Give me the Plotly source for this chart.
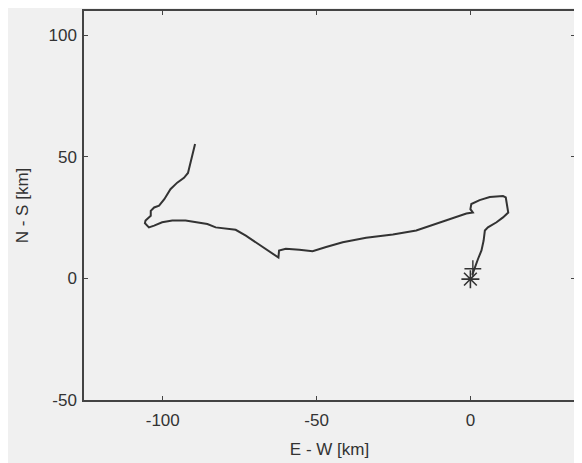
import plotly.graph_objects as go

# Trajectory (km)
ew = [-89.5, -90.9, -91.8, -93.1, -95.3, -97.5, -99.5, -101.2, -102.8, -103.9,
      -103.9, -105.6, -105.8, -104.5, -102.8, -100.2, -96.9, -92.6, -88.2, -85.5,
      -82.8, -76.3, -73.0, -69.8, -66.5, -63.2, -62.4, -62.2, -60.0, -55.6,
      -51.3, -46.9, -41.5, -33.9, -25.2, -17.6, -12.2, -6.7, -1.3, 0.8,
      0.0, 0.3, 3.0, 6.3, 10.6, 11.5, 11.9, 12.3, 10.6, 8.5,
      5.7, 4.7, 4.3, 3.6, 2.5, 1.4, 0.6]
ns = [55.3, 48.2, 43.4, 41.4, 39.4, 36.7, 32.6, 29.9, 29.2, 27.8,
      25.8, 23.8, 22.7, 21.0, 21.7, 23.1, 23.8, 23.8, 23.1, 22.4,
      21.0, 20.0, 17.6, 14.9, 12.2, 9.5, 8.6, 11.5, 12.2, 11.8,
      11.2, 12.9, 14.9, 16.7, 18.1, 19.7, 22.1, 24.4, 26.7, 27.1,
      28.5, 30.6, 32.2, 33.5, 33.9, 33.3, 29.2, 27.1, 25.1, 23.1,
      21.0, 19.7, 15.6, 11.5, 8.1, 4.7, 1.5]

start_x = [0.0]
start_y = [-0.3]
plus_x = [0.8]
plus_y = [4.0]

x_ticks = [-100, -50, 0]
x_tick_text = ["-100", "-50", "0"]
y_ticks = [-50, 0, 50, 100]
y_tick_text = ["-50", "0", "50", "100"]

ink = "#333333"
fig = go.Figure()
fig.add_trace(go.Scatter(x=ew, y=ns, mode="lines",
                         line=dict(color=ink, width=2), showlegend=False))
fig.add_trace(go.Scatter(x=start_x, y=start_y, mode="markers",
                         marker=dict(symbol="asterisk-open", size=15, color=ink,
                                     line=dict(color=ink, width=1.6)),
                         showlegend=False))
fig.add_trace(go.Scatter(x=plus_x, y=plus_y, mode="markers",
                         marker=dict(symbol="cross-thin-open", size=12, color=ink,
                                     line=dict(color=ink, width=1.4)),
                         showlegend=False))

axis_common = dict(showgrid=False, zeroline=False, showline=True, linecolor="#444444",
                   linewidth=1.5, mirror="ticks", ticks="inside", ticklen=4,
                   tickcolor="#444444", tickwidth=1,
                   tickfont=dict(family="Liberation Sans, Arial", size=17, color="#333333"),
                   title_font=dict(family="Liberation Sans, Arial", size=17, color="#333333"))

fig.update_xaxes(range=[-125.6, 34], tickvals=x_ticks, ticktext=x_tick_text,
                 ticklabelstandoff=4,
                 title_text="E - W [km]", title_standoff=14, **axis_common)
fig.update_yaxes(range=[-50, 110], tickvals=y_ticks, ticktext=y_tick_text,
                 ticklabelstandoff=2,
                 title_text="N - S [km]", title_standoff=16, **axis_common)

fig.update_layout(width=582, height=463,
                  margin=dict(l=76, r=15, t=1, b=71),
                  paper_bgcolor="#f0f0f0", plot_bgcolor="#f0f0f0")

fig.write_html("out.html")
